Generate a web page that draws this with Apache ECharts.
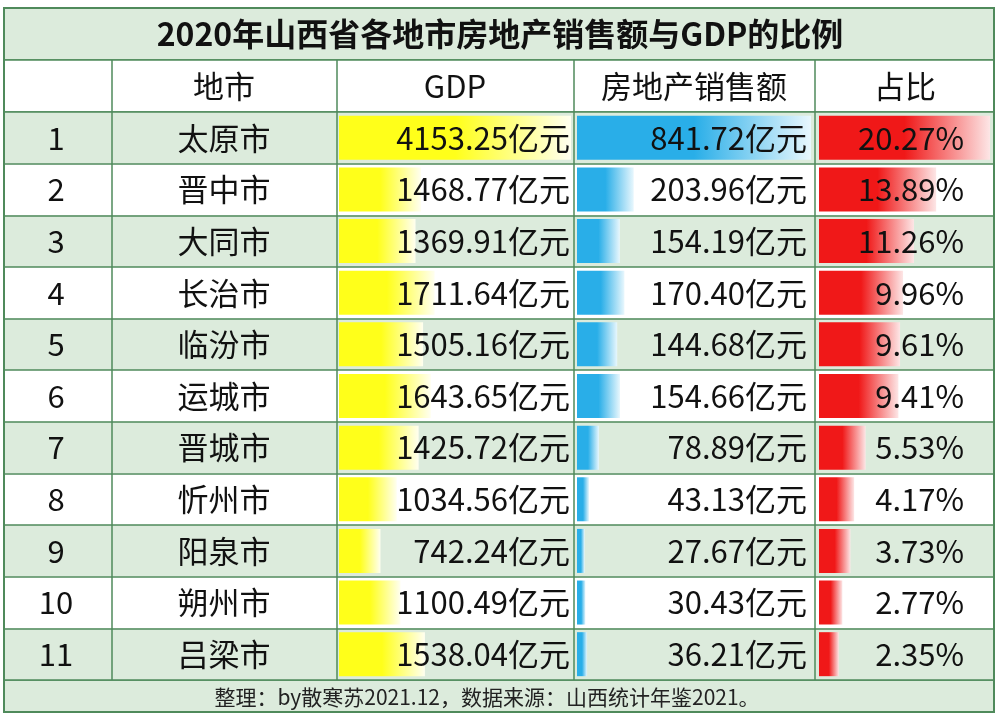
<!DOCTYPE html>
<html>
<head>
<meta charset="utf-8">
<script src="https://cdn.jsdelivr.net/npm/echarts@6/dist/echarts.min.js"></script>
<style>html,body{margin:0;padding:0;background:#fff}#main{width:1000px;height:728px}</style>
</head>
<body>
<div id="main"></div>
<script>
var ranks = ['1','2','3','4','5','6','7','8','9','10','11'];
var cities = ['太原市','晋中市','大同市','长治市','临汾市','运城市','晋城市','忻州市','阳泉市','朔州市','吕梁市'];
var gdp = [4153.25,1468.77,1369.91,1711.64,1505.16,1643.65,1425.72,1034.56,742.24,1100.49,1538.04];
var sales = [841.72,203.96,154.19,170.40,144.68,154.66,78.89,43.13,27.67,30.43,36.21];
var ratio = [20.27,13.89,11.26,9.96,9.61,9.41,5.53,4.17,3.73,2.77,2.35];

var chart = echarts.init(document.getElementById('main'));
var FONT = '"Noto Sans CJK SC", "Noto Sans", sans-serif';
var LINE = '#4f8a5b';
var TOP = 112, H = 568;

function grad(c1, c2) {
    return new echarts.graphic.LinearGradient(0, 0, 1, 0, [{offset:0,color:c1},{offset:0.5,color:c1},{offset:1,color:c2}]);
}
function catAxis(gi, labels, opt) {
    var a = {
        type:'category', gridIndex:gi, inverse:true, data:labels,
        axisLine:{show:false}, axisTick:{show:false}, splitLine:{show:false},
        axisLabel:{show:false}
    };
    for (var k in opt) a[k] = opt[k];
    return a;
}
function valAxis(gi, max) {
    return {type:'value', gridIndex:gi, min:0, max:max, show:false};
}
function labelAxis(gi, labels, pos, align, margin) {
    return catAxis(gi, labels, {position:pos, z:10, axisLabel:{show:true, interval:0, align:align, margin:margin,
        fontFamily:FONT, fontSize:31, color:'#111'}});
}

var option = {
    backgroundColor:'#fff',
    animation:false,
    grid:[
        {left:4, width:990, top:TOP, height:H},       // background rows
        {left:339, width:232, top:TOP, height:H},     // GDP
        {left:577, width:234, top:TOP, height:H},     // sales
        {left:819, width:171, top:TOP, height:H}      // ratio
    ],
    xAxis:[valAxis(0,1), valAxis(1,4153.25), valAxis(2,841.72), valAxis(3,20.27)],
    yAxis:[
        catAxis(0, ranks, {splitArea:{show:true, interval:0, areaStyle:{color:['#dcebdc','#ffffff']}},
            splitLine:{show:true, interval:0, lineStyle:{color:LINE, width:1.5}}}),
        catAxis(1, ranks),
        catAxis(2, ranks),
        catAxis(3, ranks),
        labelAxis(1, ranks, 'left', 'center', 283),
        labelAxis(1, cities, 'left', 'center', 115),
        labelAxis(1, gdp.map(function(v){return v.toFixed(2)+'亿元';}), 'right', 'right', -1),
        labelAxis(2, sales.map(function(v){return v.toFixed(2)+'亿元';}), 'right', 'right', -4),
        labelAxis(3, ratio.map(function(v){return v.toFixed(2)+'%';}), 'right', 'right', -26)
    ],
    series:[
        {type:'bar', xAxisIndex:1, yAxisIndex:1, data:gdp, barWidth:44, z:2, itemStyle:{color:grad('#ffff1a','#fffff0')}},
        {type:'bar', xAxisIndex:2, yAxisIndex:2, data:sales, barWidth:44, z:2, itemStyle:{color:grad('#29aee8','#e8f7fd')}},
        {type:'bar', xAxisIndex:3, yAxisIndex:3, data:ratio, barWidth:44, z:2, itemStyle:{color:grad('#f01818','#fde6e6')}}
    ],
    graphic:[
        {type:'rect', shape:{x:4,y:8,width:990,height:52}, style:{fill:'#dcebdc', stroke:LINE, lineWidth:1.5}, z:-1},
        {type:'rect', shape:{x:4,y:60,width:990,height:52}, style:{fill:'#fff', stroke:LINE, lineWidth:1.5}, z:-1},
        {type:'rect', shape:{x:4,y:680,width:990,height:32}, style:{fill:'#dcebdc', stroke:LINE, lineWidth:1.5}, z:-1},
        {type:'rect', shape:{x:4,y:8,width:990,height:704}, style:{fill:null, stroke:LINE, lineWidth:2}, z:10},
        {type:'line', shape:{x1:112,y1:60,x2:112,y2:680}, style:{stroke:LINE, lineWidth:1.5}, z:10},
        {type:'line', shape:{x1:337,y1:60,x2:337,y2:680}, style:{stroke:LINE, lineWidth:1.5}, z:10},
        {type:'line', shape:{x1:574,y1:60,x2:574,y2:680}, style:{stroke:LINE, lineWidth:1.5}, z:10},
        {type:'line', shape:{x1:815,y1:60,x2:815,y2:680}, style:{stroke:LINE, lineWidth:1.5}, z:10},
        {type:'text', x:500, y:34, style:{text:'2020年山西省各地市房地产销售额与GDP的比例', font:'bold 32px '+FONT, fill:'#111', align:'center', verticalAlign:'middle'}},
        {type:'text', x:224, y:86, style:{text:'地市', font:'31px '+FONT, fill:'#111', align:'center', verticalAlign:'middle'}},
        {type:'text', x:455, y:86, style:{text:'GDP', font:'31px '+FONT, fill:'#111', align:'center', verticalAlign:'middle'}},
        {type:'text', x:694, y:86, style:{text:'房地产销售额', font:'31px '+FONT, fill:'#111', align:'center', verticalAlign:'middle'}},
        {type:'text', x:905, y:86, style:{text:'占比', font:'31px '+FONT, fill:'#111', align:'center', verticalAlign:'middle'}},
        {type:'text', x:487, y:697, style:{text:'整理：by散寒苏2021.12，数据来源：山西统计年鉴2021。', font:'21px '+FONT, fill:'#222', align:'center', verticalAlign:'middle'}}
    ]
};
chart.setOption(option);
</script>
</body>
</html>
